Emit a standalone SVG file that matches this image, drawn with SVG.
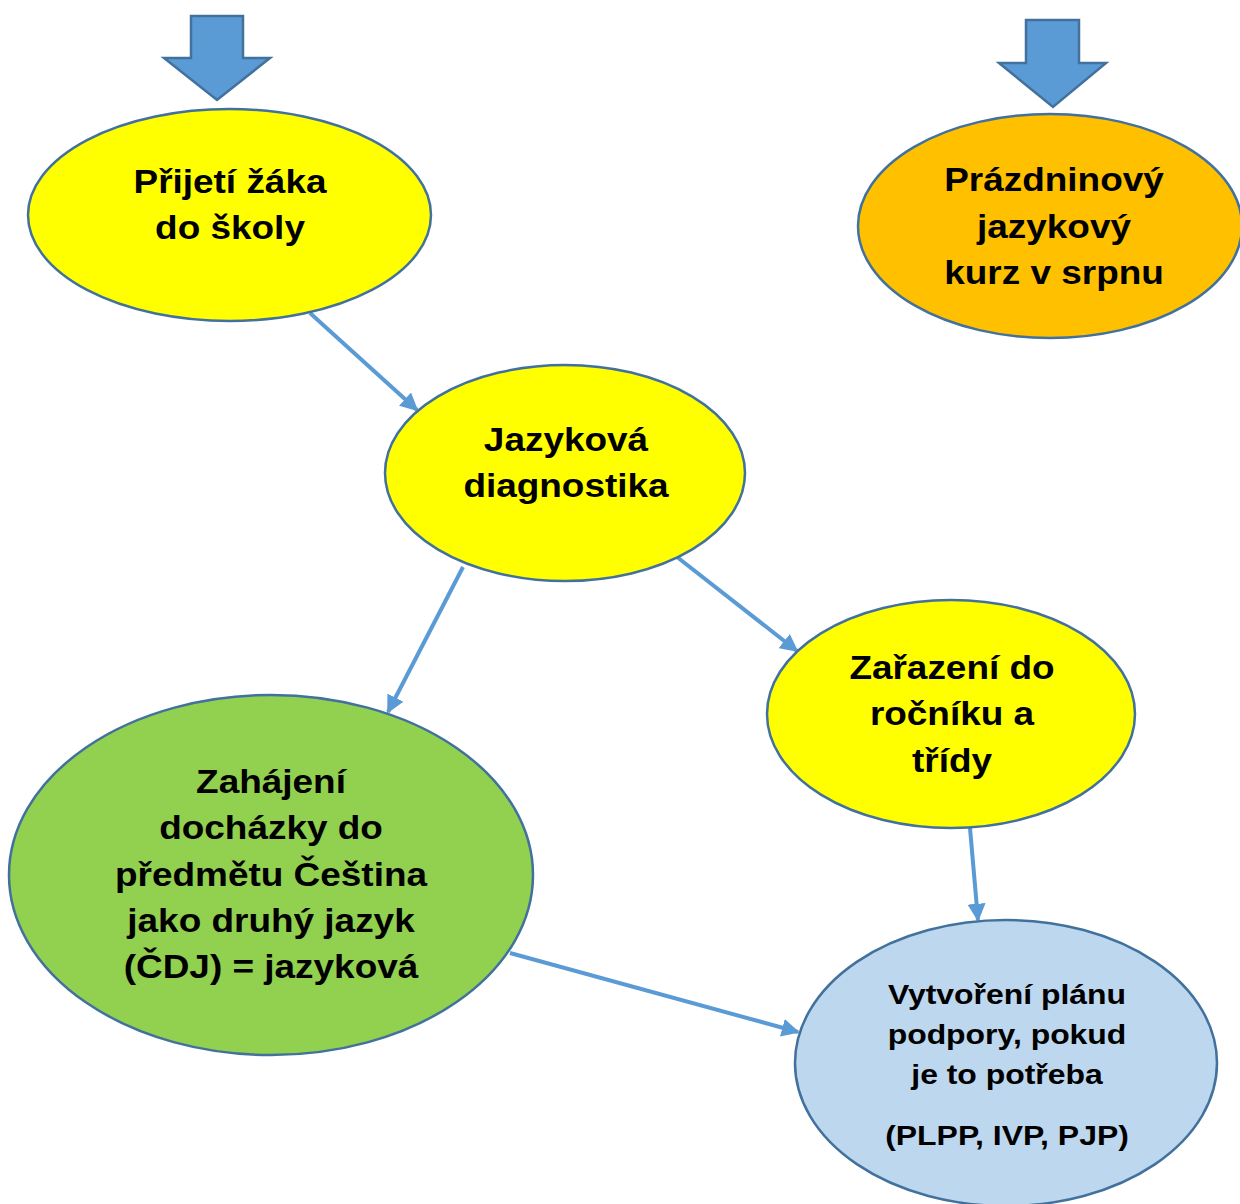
<svg xmlns="http://www.w3.org/2000/svg" width="1240" height="1204" viewBox="0 0 1240 1204">
  <style>
    .node { stroke: #41719C; stroke-width: 2.5; }
    .label { font-family: "Liberation Sans", Arial, sans-serif; font-weight: bold; font-size: 33px; fill: #000; text-anchor: middle; }
    .small { font-size: 28px; }
    .conn { stroke: #5B9BD5; stroke-width: 4; fill: none; marker-end: url(#head); }
    .block { fill: #5B9BD5; stroke: #41719C; stroke-width: 2.5; stroke-linejoin: miter; }
  </style>
  <defs>
    <marker id="head" viewBox="0 0 10 10" refX="9" refY="5" markerWidth="4.5" markerHeight="4.5" orient="auto" markerUnits="strokeWidth">
      <path d="M0,0 L10,5 L0,10 Z" fill="#5B9BD5"/>
    </marker>
  </defs>
  <rect width="1240" height="1204" fill="#fff"/>

  <!-- entry arrows -->
  <g id="entry-left">
    <polygon class="block" points="191,16 243,16 243,58 270,58 217,100 164,58 191,58"/>
  </g>
  <g id="entry-right">
    <polygon class="block" points="1026,20 1079,20 1079,63 1106,63 1053,107 999,63 1026,63"/>
  </g>

  <!-- connectors -->
  <g id="connectors">
    <line class="conn" x1="310" y1="313" x2="417" y2="410"/>
    <line class="conn" x1="463" y1="567" x2="388" y2="712"/>
    <line class="conn" x1="677" y1="557" x2="797" y2="651"/>
    <line class="conn" x1="510" y1="953" x2="798" y2="1032"/>
    <line class="conn" x1="970" y1="828" x2="978" y2="920"/>
  </g>

  <!-- labels are set in a slightly widened bold face -->
  <g id="prijeti">
    <ellipse class="node" cx="229.5" cy="215" rx="201.5" ry="106" fill="#FFFF00"/>
    <g transform="translate(230 0) scale(1.12 1)">
      <text class="label" x="0" y="193">Přijetí žáka</text>
      <text class="label" x="0" y="239">do školy</text>
    </g>
  </g>

  <g id="kurz">
    <ellipse class="node" cx="1050" cy="226" rx="192" ry="112" fill="#FFC000"/>
    <g transform="translate(1054 0) scale(1.12 1)">
      <text class="label" x="0" y="191">Prázdninový</text>
      <text class="label" x="0" y="238">jazykový</text>
      <text class="label" x="0" y="284">kurz v srpnu</text>
    </g>
  </g>

  <g id="diagnostika">
    <ellipse class="node" cx="565" cy="473" rx="180" ry="108" fill="#FFFF00"/>
    <g transform="translate(566 0) scale(1.12 1)">
      <text class="label" x="0" y="451">Jazyková</text>
      <text class="label" x="0" y="497">diagnostika</text>
    </g>
  </g>

  <g id="zarazeni">
    <ellipse class="node" cx="951" cy="714" rx="184" ry="114" fill="#FFFF00"/>
    <g transform="translate(952 0) scale(1.12 1)">
      <text class="label" x="0" y="679">Zařazení do</text>
      <text class="label" x="0" y="725">ročníku a</text>
      <text class="label" x="0" y="772">třídy</text>
    </g>
  </g>

  <g id="cdj">
    <ellipse class="node" cx="271" cy="875" rx="262" ry="180" fill="#92D050"/>
    <g transform="translate(271 0) scale(1.12 1)">
      <text class="label" x="0" y="793">Zahájení</text>
      <text class="label" x="0" y="839">docházky do</text>
      <text class="label" x="0" y="886">předmětu Čeština</text>
      <text class="label" x="0" y="932">jako druhý jazyk</text>
      <text class="label" x="0" y="978">(ČDJ) = jazyková</text>
    </g>
  </g>

  <g id="plan">
    <ellipse class="node" cx="1006" cy="1063" rx="211" ry="143" fill="#BDD7EE"/>
    <g transform="translate(1007 0) scale(1.14 1)">
      <text class="label small" x="0" y="1004">Vytvoření plánu</text>
      <text class="label small" x="0" y="1044">podpory, pokud</text>
      <text class="label small" x="0" y="1084">je to potřeba</text>
      <text class="label small" x="0" y="1145">(PLPP, IVP, PJP)</text>
    </g>
  </g>
</svg>
